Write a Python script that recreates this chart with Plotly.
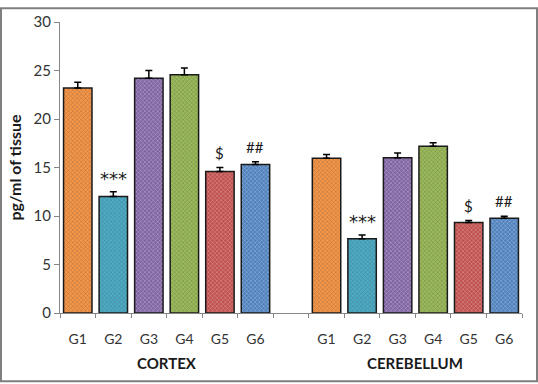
import plotly.graph_objects as go

groups = ["G1", "G2", "G3", "G4", "G5", "G6"]
regions = ["CORTEX", "CEREBELLUM"]
cortex_vals = [23.2, 12.0, 24.2, 24.55, 14.6, 15.3]
cortex_err = [0.6, 0.5, 0.8, 0.7, 0.4, 0.3]
cereb_vals = [15.95, 7.65, 16.0, 17.2, 9.33, 9.77]
cereb_err = [0.4, 0.4, 0.5, 0.35, 0.2, 0.2]
cortex_marks = ["", "***", "", "", "$", "##"]
cereb_marks = ["", "***", "", "", "$", "##"]

colors = ["#F79646", "#4BACC6", "#8064A2", "#9BBB59", "#C0504D", "#4F81BD"]
dark = ["#C8692A", "#2A7F98", "#4E3A70", "#6F8C36", "#8E2E2C", "#2D5A8E"]

W, H = 538, 384
ml, mr, mt, mb = 60, 16, 15, 71
pw, ph = W - ml - mr, H - mt - mb

fig = go.Figure()
xs_all, tt_all = [], []
for ri, (vals, errs, marks) in enumerate([(cortex_vals, cortex_err, cortex_marks),
                                          (cereb_vals, cereb_err, cereb_marks)]):
    xs = [ri * 7 + i for i in range(len(groups))]
    xs_all += xs
    tt_all += groups
    fig.add_trace(go.Bar(
        x=xs, y=vals, width=0.8,
        marker=dict(color=colors, line=dict(color="#1a1a1a", width=1.5),
                    pattern=dict(shape="x", size=3, solidity=0.3, fillmode="overlay",
                                 fgcolor=dark, fgopacity=0.45)),
        error_y=dict(type="data", symmetric=False, array=errs,
                     arrayminus=[0] * len(errs), color="black", thickness=1.5, width=3.5),
        showlegend=False, hoverinfo="skip",
    ))
    for x, v, e, m in zip(xs, vals, errs, marks):
        if m:
            fig.add_annotation(x=x, y=v + e, text=m, showarrow=False, yanchor="bottom",
                               yshift=1 if m == "***" else 4,
                               font=dict(size=18 if m == "***" else 15, color="#1a1a1a",
                                         family="DejaVu Sans" if m == "***" else "Lato"))
    fig.add_annotation(x=ri * 7 + 2.5, y=0, yref="y", text="<b>%s</b>" % regions[ri],
                       showarrow=False, yshift=-50, font=dict(size=15, color="#1a1a1a",
                                                              family="Lato"))

fig.update_layout(
    width=W, height=H, margin=dict(l=ml, r=mr, t=mt, b=mb),
    paper_bgcolor="white", plot_bgcolor="white",
    font=dict(family="Lato", color="#333333"),
    xaxis=dict(range=[-0.5, 12.5], tickvals=xs_all, ticktext=tt_all, ticks="outside",
               ticklen=13, tickcolor="rgba(0,0,0,0)",
               showline=True, linecolor="#868686", linewidth=1, showgrid=False,
               zeroline=False, tickfont=dict(size=14, color="#333333"),
               minor=dict(ticks="outside", dtick=1, tick0=-0.5, ticklen=4,
                          tickcolor="#868686", showgrid=False)),
    yaxis=dict(range=[0, 30], dtick=5, ticks="outside", ticklen=5, tickcolor="#868686",
               showline=True, linecolor="#868686", linewidth=1, showgrid=False,
               zeroline=False, tickfont=dict(size=15, color="#333333"),
               title=dict(text="<b>pg/ml of tissue</b>", font=dict(size=16, color="#1a1a1a"),
                          standoff=7)),
)
fig.add_shape(type="rect", xref="paper", yref="paper",
              x0=-(ml - 1) / pw, x1=1 + (mr - 1) / pw,
              y0=-(mb - 1) / ph, y1=1 + (mt - 1) / ph,
              line=dict(color="#7f7f7f", width=2), layer="above")
fig.write_html("out.html", config={"displayModeBar": False},
               post_script="document.body.style.margin='0';")
